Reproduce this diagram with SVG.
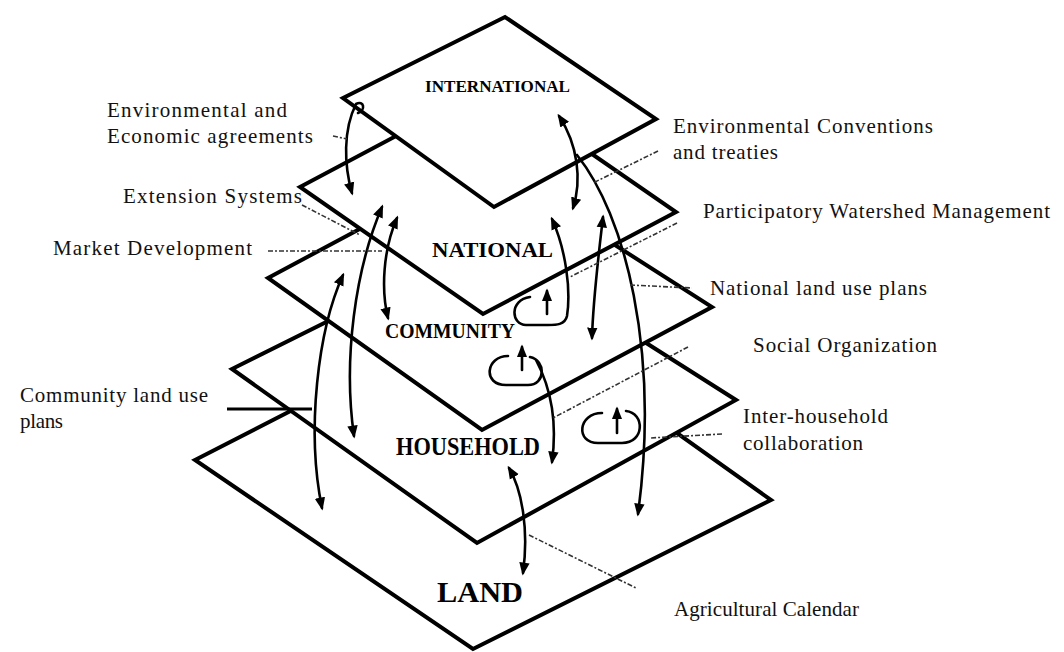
<svg xmlns="http://www.w3.org/2000/svg" width="1064" height="652" viewBox="0 0 1064 652">
<defs>
<style>
.plane{fill:#fff;stroke:#000;stroke-width:4;stroke-linejoin:miter}
.lvl{font-family:"Liberation Serif","Times New Roman",serif;font-weight:bold;fill:#000}
.lbl{font-family:"Liberation Serif","Times New Roman",serif;font-size:21px;fill:#111}
.arr{fill:none;stroke:#000;stroke-width:2.6;stroke-linecap:round}
.dbl{marker-start:url(#ah);marker-end:url(#ah)}
.one{marker-end:url(#ah)}
.lead{fill:none;stroke:#333;stroke-width:1.6;stroke-dasharray:5 2 2 2}
.solid{fill:none;stroke:#000;stroke-width:3}
</style>
<marker id="ah" viewBox="0 0 10 10" refX="8" refY="5" markerUnits="userSpaceOnUse" markerWidth="13" markerHeight="13" orient="auto-start-reverse">
<path d="M0,1 L10,5 L0,9 z" fill="#000"/>
</marker>
</defs>

<g id="land">
<polygon class="plane" points="195,460 497,305 771,500 473,649"/>
<text class="lvl" x="437" y="602" font-size="30" textLength="86" lengthAdjust="spacingAndGlyphs">LAND</text>
</g>
<g id="household">
<polygon class="plane" points="232,369 487,242 736,400 477,543"/>
<text class="lvl" x="396" y="455" font-size="25" textLength="144" lengthAdjust="spacingAndGlyphs">HOUSEHOLD</text>
</g>
<g id="community">
<polygon class="plane" points="268,278 485,162 712,307 482,430"/>
<text class="lvl" x="385" y="338" font-size="21" textLength="130" lengthAdjust="spacingAndGlyphs">COMMUNITY</text>
</g>
<g id="national">
<polygon class="plane" points="300,187 492,85 676,212 483,314"/>
<text class="lvl" x="432" y="257" font-size="21" textLength="121" lengthAdjust="spacingAndGlyphs">NATIONAL</text>
</g>
<g id="international">
<polygon class="plane" points="343,98 505,17 656,119 494,207"/>
<text class="lvl" x="425" y="92" font-size="17" textLength="145" lengthAdjust="spacingAndGlyphs">INTERNATIONAL</text>
</g>

<g id="connectors">
<path class="arr one" d="M358,113 C366,110 364,100 356,104 C343,130 344,165 352,193"/>
<path class="arr dbl" d="M382,207 C355,270 343,360 354,436"/>
<path class="arr dbl" d="M397,218 C383,250 381,290 388,318"/>
<path class="arr dbl" d="M343,275 C318,330 306,430 322,508"/>
<path class="arr dbl" d="M559,116 C578,145 582,180 573,208"/>
<path class="arr one" d="M577,155 C625,215 660,350 638,514"/>
<path class="arr dbl" d="M603,217 C598,260 593,300 592,338"/>
<path class="arr" style="marker-start:url(#ah)" d="M552,219 C566,250 571,290 567,316 C565,325 556,325 548,325 L526,325 C511,325 509,300 530,297"/>
<path class="arr one" d="M547,314 L547,291"/>
<path class="arr" d="M508,356 C486,356 482,385 506,385 L528,385 C546,385 546,360 530,357"/>
<path class="arr one" d="M522,370 L522,347"/>
<path class="arr one" d="M536,360 C552,390 557,425 552,462"/>
<path class="arr" d="M602,413 C578,413 575,443 598,443 L622,443 C645,443 645,413 626,411"/>
<path class="arr one" d="M617,433 L617,409"/>
<path class="arr dbl" d="M509,468 C522,490 529,530 523,573"/>
<line class="lead" x1="333" y1="136" x2="347" y2="139"/>
<line class="lead" x1="302" y1="205" x2="360" y2="235"/>
<line class="lead" x1="268" y1="251" x2="382" y2="251"/>
<line class="solid" x1="227" y1="409" x2="312" y2="409"/>
<line class="lead" x1="658" y1="151" x2="593" y2="183"/>
<line class="lead" x1="677" y1="223" x2="570" y2="277"/>
<line class="lead" x1="630" y1="285" x2="692" y2="288"/>
<line class="lead" x1="688" y1="347" x2="553" y2="418"/>
<line class="lead" x1="722" y1="434" x2="650" y2="438"/>
<line class="lead" x1="529" y1="535" x2="636" y2="588"/>
</g>

<g id="labels">
<text class="lbl" x="107" y="117" textLength="180" lengthAdjust="spacing">Environmental and</text>
<text class="lbl" x="107" y="143" textLength="206" lengthAdjust="spacing">Economic agreements</text>
<text class="lbl" x="123" y="203" textLength="179" lengthAdjust="spacing">Extension Systems</text>
<text class="lbl" x="53" y="255" textLength="199" lengthAdjust="spacing">Market Development</text>
<text class="lbl" x="20" y="402" textLength="188" lengthAdjust="spacing">Community land use</text>
<text class="lbl" x="20" y="428" textLength="43" lengthAdjust="spacing">plans</text>
<text class="lbl" x="673" y="133" textLength="260" lengthAdjust="spacing">Environmental Conventions</text>
<text class="lbl" x="673" y="159" textLength="105" lengthAdjust="spacing">and treaties</text>
<text class="lbl" x="703" y="218" textLength="347" lengthAdjust="spacing">Participatory Watershed Management</text>
<text class="lbl" x="710" y="295" textLength="217" lengthAdjust="spacing">National land use plans</text>
<text class="lbl" x="753" y="352" textLength="184" lengthAdjust="spacing">Social Organization</text>
<text class="lbl" x="743" y="423" textLength="145" lengthAdjust="spacing">Inter-household</text>
<text class="lbl" x="743" y="450" textLength="120" lengthAdjust="spacing">collaboration</text>
<text class="lbl" x="674" y="616" textLength="185" lengthAdjust="spacing">Agricultural Calendar</text>
</g>
</svg>
